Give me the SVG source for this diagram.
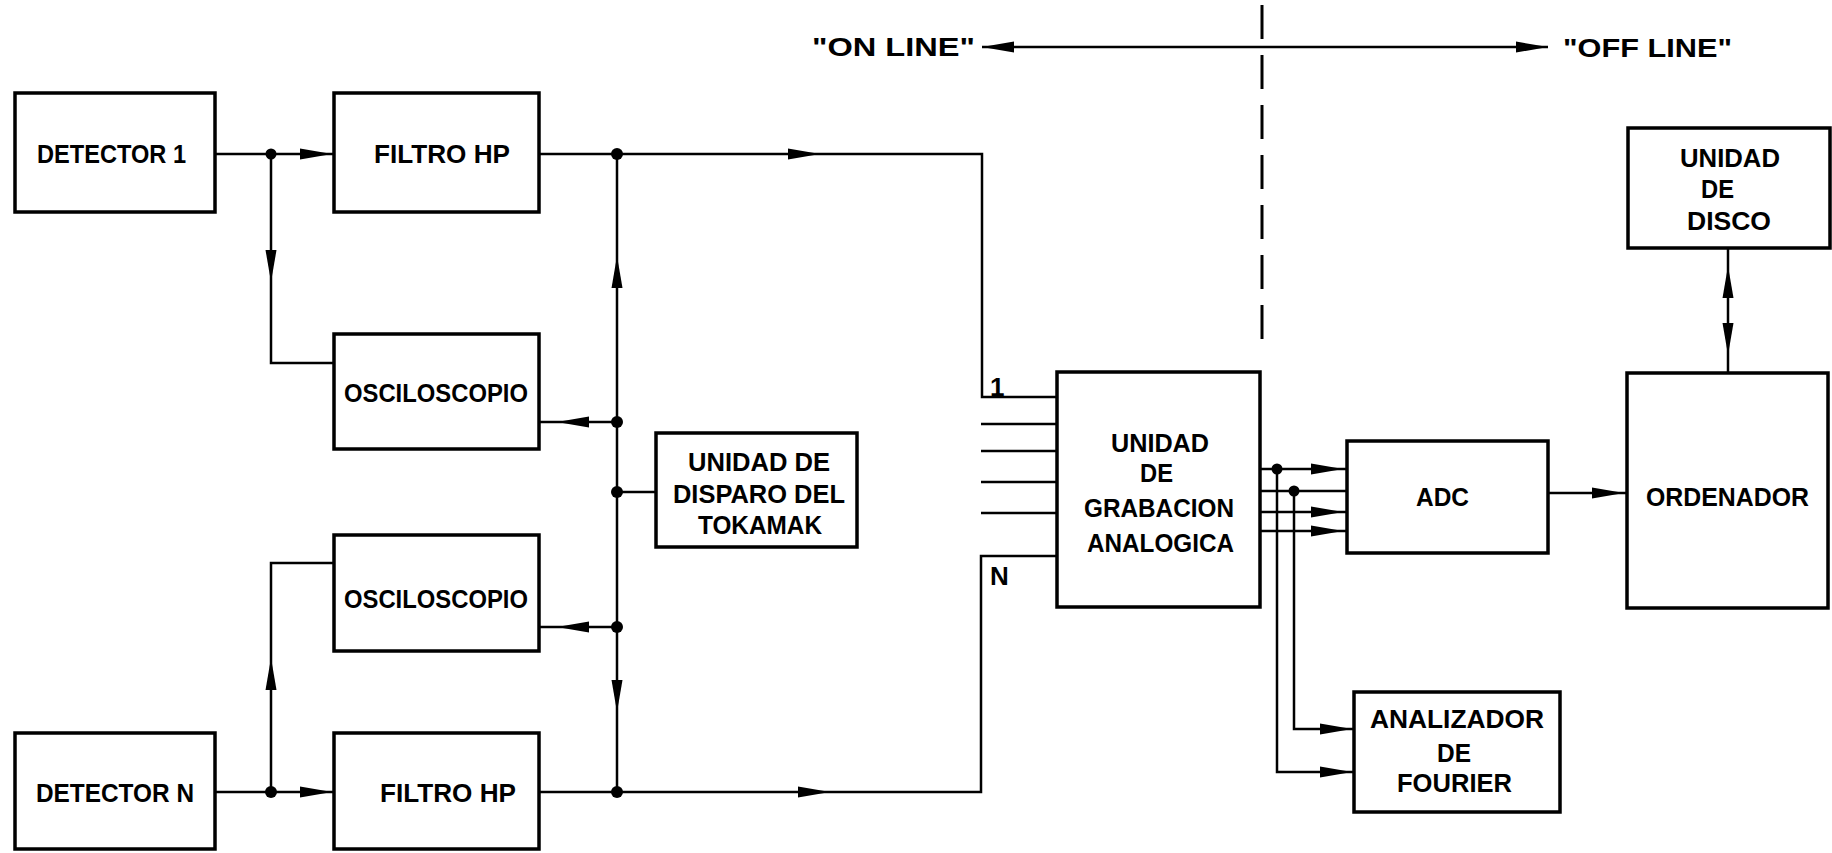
<svg xmlns="http://www.w3.org/2000/svg" xmlns:xlink="http://www.w3.org/1999/xlink" width="1832" height="853" viewBox="0 0 1832 853">
<style>
.box{fill:#fff;stroke:#000;stroke-width:3.5}
.ln{fill:none;stroke:#000;stroke-width:2.5}
.dash{fill:none;stroke:#000;stroke-width:3;stroke-dasharray:34 16}
.dot{fill:#000}
text{font-family:"Liberation Sans",Arial,sans-serif;font-weight:bold;font-size:26px;fill:#000}
</style>
<defs>
<path id="ah" d="M0,0 L-32,-5.5 L-32,5.5 Z" fill="#000"/>
</defs>
<rect width="1832" height="853" fill="#fff"/>

<g id="connectors">
  <path class="ln" d="M982,47 H1548"/>
  <use xlink:href="#ah" transform="translate(982,47) rotate(180)"/>
  <use xlink:href="#ah" transform="translate(1548,47)"/>
  <path class="dash" d="M1262,5 V345"/>

  <path class="ln" d="M215,154 H334"/>
  <use xlink:href="#ah" transform="translate(332,154)"/>
  <path class="ln" d="M271,154 V363 H334"/>
  <use xlink:href="#ah" transform="translate(271,282) rotate(90)"/>
  <circle class="dot" cx="271" cy="154" r="5.5"/>

  <path class="ln" d="M539,154 H982 V397 H1057"/>
  <use xlink:href="#ah" transform="translate(820,154)"/>

  <path class="ln" d="M617,154 V792"/>
  <use xlink:href="#ah" transform="translate(617,256) rotate(-90)"/>
  <use xlink:href="#ah" transform="translate(617,712) rotate(90)"/>
  <path class="ln" d="M617,422 H539"/>
  <use xlink:href="#ah" transform="translate(557,422) rotate(180)"/>
  <path class="ln" d="M617,492 H656"/>
  <path class="ln" d="M617,627 H539"/>
  <use xlink:href="#ah" transform="translate(557,627) rotate(180)"/>
  <circle class="dot" cx="617" cy="154" r="6"/>
  <circle class="dot" cx="617" cy="422" r="6"/>
  <circle class="dot" cx="617" cy="492" r="6"/>
  <circle class="dot" cx="617" cy="627" r="6"/>
  <circle class="dot" cx="617" cy="792" r="6"/>

  <path class="ln" d="M215,792 H334"/>
  <use xlink:href="#ah" transform="translate(332,792)"/>
  <path class="ln" d="M271,792 V563 H334"/>
  <use xlink:href="#ah" transform="translate(271,658) rotate(-90)"/>
  <circle class="dot" cx="271" cy="792" r="6"/>

  <path class="ln" d="M539,792 H981 V556 H1057"/>
  <use xlink:href="#ah" transform="translate(830,792)"/>

  <path class="ln" d="M981,424 H1057 M981,451 H1057 M981,482 H1057 M981,513 H1057"/>

  <path class="ln" d="M1260,469 H1347 M1260,491 H1347 M1260,512 H1347 M1260,531 H1347"/>
  <use xlink:href="#ah" transform="translate(1343,469)"/>
  <use xlink:href="#ah" transform="translate(1343,512)"/>
  <use xlink:href="#ah" transform="translate(1343,531)"/>
  <path class="ln" d="M1277,469 V772 H1354"/>
  <path class="ln" d="M1294,491 V729 H1354"/>
  <use xlink:href="#ah" transform="translate(1352,772)"/>
  <use xlink:href="#ah" transform="translate(1352,729)"/>
  <circle class="dot" cx="1277" cy="469" r="5.5"/>
  <circle class="dot" cx="1294" cy="491" r="5.5"/>

  <path class="ln" d="M1548,493 H1627"/>
  <use xlink:href="#ah" transform="translate(1624,493)"/>

  <path class="ln" d="M1728,248 V373"/>
  <use xlink:href="#ah" transform="translate(1728,266) rotate(-90)"/>
  <use xlink:href="#ah" transform="translate(1728,355) rotate(90)"/>
</g>

<g id="labels">
  <text x="812" y="56" textLength="163" lengthAdjust="spacingAndGlyphs">"ON LINE"</text>
  <text x="1563" y="57" textLength="169" lengthAdjust="spacingAndGlyphs">"OFF LINE"</text>
  <text x="990" y="396" font-size="23">1</text>
  <text x="990" y="585" font-size="23">N</text>
</g>

<g id="detector1">
  <rect class="box" x="15" y="93" width="200" height="119"/>
  <text x="37" y="163" textLength="149" lengthAdjust="spacingAndGlyphs">DETECTOR 1</text>
</g>
<g id="filtro1">
  <rect class="box" x="334" y="93" width="205" height="119"/>
  <text x="374" y="163" textLength="136" lengthAdjust="spacingAndGlyphs">FILTRO HP</text>
</g>
<g id="osciloscopio1">
  <rect class="box" x="334" y="334" width="205" height="115"/>
  <text x="344" y="402" textLength="184" lengthAdjust="spacingAndGlyphs">OSCILOSCOPIO</text>
</g>
<g id="osciloscopio2">
  <rect class="box" x="334" y="535" width="205" height="116"/>
  <text x="344" y="608" textLength="184" lengthAdjust="spacingAndGlyphs">OSCILOSCOPIO</text>
</g>
<g id="detectorN">
  <rect class="box" x="15" y="733" width="200" height="116"/>
  <text x="36" y="802" textLength="158" lengthAdjust="spacingAndGlyphs">DETECTOR N</text>
</g>
<g id="filtroN">
  <rect class="box" x="334" y="733" width="205" height="116"/>
  <text x="380" y="802" textLength="136" lengthAdjust="spacingAndGlyphs">FILTRO HP</text>
</g>
<g id="disparo">
  <rect class="box" x="656" y="433" width="201" height="114"/>
  <text x="688" y="471" textLength="142" lengthAdjust="spacingAndGlyphs">UNIDAD DE</text>
  <text x="673" y="503" textLength="172" lengthAdjust="spacingAndGlyphs">DISPARO DEL</text>
  <text x="698" y="534" textLength="124" lengthAdjust="spacingAndGlyphs">TOKAMAK</text>
</g>
<g id="grabacion">
  <rect class="box" x="1057" y="372" width="203" height="235"/>
  <text x="1111" y="452" textLength="98" lengthAdjust="spacingAndGlyphs">UNIDAD</text>
  <text x="1140" y="482" textLength="33" lengthAdjust="spacingAndGlyphs">DE</text>
  <text x="1084" y="517" textLength="150" lengthAdjust="spacingAndGlyphs">GRABACION</text>
  <text x="1087" y="552" textLength="147" lengthAdjust="spacingAndGlyphs">ANALOGICA</text>
</g>
<g id="adc">
  <rect class="box" x="1347" y="441" width="201" height="112"/>
  <text x="1416" y="506" textLength="53" lengthAdjust="spacingAndGlyphs">ADC</text>
</g>
<g id="fourier">
  <rect class="box" x="1354" y="692" width="206" height="120"/>
  <text x="1370" y="728" textLength="174" lengthAdjust="spacingAndGlyphs">ANALIZADOR</text>
  <text x="1437" y="762" textLength="34" lengthAdjust="spacingAndGlyphs">DE</text>
  <text x="1397" y="792" textLength="115" lengthAdjust="spacingAndGlyphs">FOURIER</text>
</g>
<g id="ordenador">
  <rect class="box" x="1627" y="373" width="201" height="235"/>
  <text x="1646" y="506" textLength="163" lengthAdjust="spacingAndGlyphs">ORDENADOR</text>
</g>
<g id="disco">
  <rect class="box" x="1628" y="128" width="202" height="120"/>
  <text x="1680" y="167" textLength="100" lengthAdjust="spacingAndGlyphs">UNIDAD</text>
  <text x="1701" y="198" textLength="33" lengthAdjust="spacingAndGlyphs">DE</text>
  <text x="1687" y="230" textLength="84" lengthAdjust="spacingAndGlyphs">DISCO</text>
</g>
</svg>
